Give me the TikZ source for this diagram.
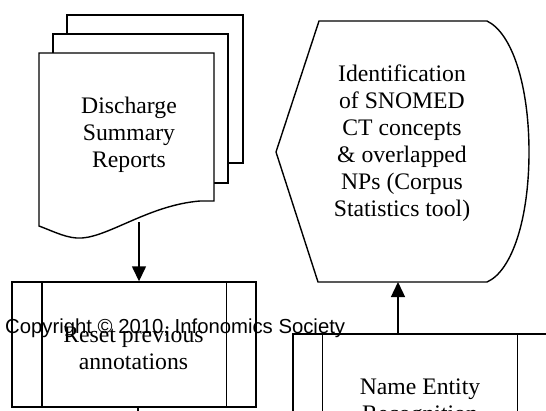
\documentclass[tikz,border=0pt]{standalone}
\usepackage{fontspec}
\setmainfont{Liberation Serif}
\newfontfamily\copyfont{Liberation Sans}
\usetikzlibrary{calc,arrows.meta,positioning}
\tikzset{shapeline/.style={line width=1.4pt, line join=miter}, page/.style={shapeline, fill=white}, procbox/.style={shapeline, draw, rectangle, minimum width=244pt, minimum height=125pt, inner sep=0pt}, boxtext/.style={font=\fontsize{23.7}{27}\selectfont, align=center, inner sep=0pt}, flow/.style={line width=1.4pt, -{Triangle[length=15pt,width=14pt]}}}

\begin{document}
\begin{tikzpicture}[x=1pt,y=-1pt]
    \fill[white] (0,0) rectangle (546,410);
    \clip (0,0) rectangle (546,410);
    % stack of reports
    \draw[page] (67,15) rectangle (243,163);
    \draw[page] (53,34) rectangle (228,183);
    \draw[page] (39,226) -- (39,53) -- (214,53) -- (214,201) -- (200,201) .. controls (150,205) and (110,236) .. (82,238) .. controls (68,239) and (55,232) .. (39,226) -- cycle;
    \node[boxtext] (doc) at (129,134.5) {Discharge\\Summary\\Reports};
    \coordinate (docout) at (139,222);
    % reset box
    \node[procbox] (reset) at (134,344.5) {};
    \draw[shapeline] ($(reset.north west)+(30.5,0)$) -- ($(reset.south west)+(30.5,0)$);
    \draw[shapeline] ($(reset.north east)+(-30.5,0)$) -- ($(reset.south east)+(-30.5,0)$);
    \node[boxtext] (resettext) at (133.5,348.4) {Reset previous\\annotations};
    \coordinate (resetout) at (138,425);
    % display shape
    \draw[shapeline] (319,21) -- (487,21) .. controls (512,33) and (529,85) .. (529,152) .. controls (529,219) and (512,271) .. (487,282) -- (318,282) -- (276,152) -- cycle;
    \node[boxtext] (ident) at (402,143.5) {Identification\\of SNOMED\\CT concepts\\\& overlapped\\NPs (Corpus\\Statistics tool)};
    \coordinate (identin) at (398,282);
    % name entity box
    \node[procbox, minimum width=254pt] (ner) at (420,396.5) {};
    \draw[shapeline] ($(ner.north west)+(30,0)$) -- ($(ner.south west)+(30,0)$);
    \draw[shapeline] ($(ner.north east)+(-30,0)$) -- ($(ner.south east)+(-30,0)$);
    \node[boxtext] (nertext) at (420,403) {Name Entity\\Recognition};
    % connectors
    \draw[flow] (docout) -- (docout |- reset.north);
    \draw[flow] (ner.north -| identin) -- (identin);
    \draw[shapeline] (resetout |- reset.south) -- (resetout);
    \node[font=\copyfont\fontsize{20.3}{24}\selectfont, inner sep=0pt, anchor=base west] (copy) at (5,333) {Copyright \textcopyright{} 2010, Infonomics Society};
\end{tikzpicture}
\end{document}
